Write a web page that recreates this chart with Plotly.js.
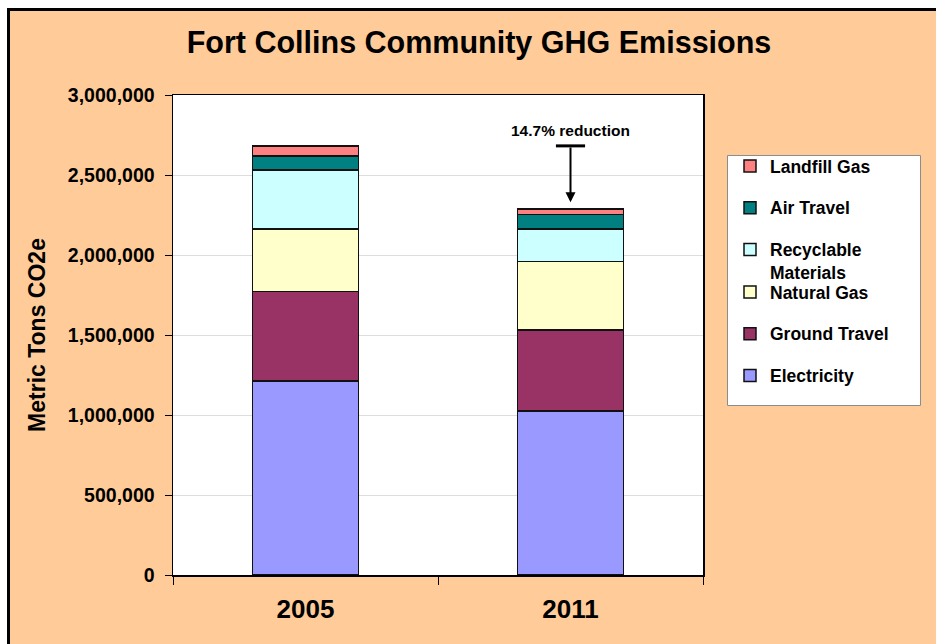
<!DOCTYPE html>
<html>
<head>
<meta charset="utf-8">
<script src="https://cdn.plot.ly/plotly-3.0.1.min.js"></script>
<style>
html,body{margin:0;padding:0;background:#fff;}
#chart{width:936px;height:644px;}
</style>
</head>
<body>
<div id="chart"></div>
<script>
// ---- data (metric tons CO2e) ----
const categories = ['2005', '2011'];
const electricity  = [1211000, 1025000];
const groundTravel = [560000, 507000];
const naturalGas   = [390000, 426000];
const recyclable   = [369000, 205000];
const airTravel    = [90000, 90000];
const landfillGas  = [62000, 33000];
const seriesNames  = ['Electricity', 'Ground Travel', 'Natural Gas', 'Recyclable<br>Materials', 'Air Travel', 'Landfill Gas'];
const seriesColors = ['#9999FF', '#993366', '#FFFFCC', '#CCFFFF', '#008080', '#FF8080'];
const yTickVals = [0, 500000, 1000000, 1500000, 2000000, 2500000, 3000000];
const reductionLabel = '14.7% reduction';

const seriesValues = [electricity, groundTravel, naturalGas, recyclable, airTravel, landfillGas];
const totals = categories.map((c, i) => seriesValues.reduce((s, arr) => s + arr[i], 0));

const FONT = 'Arial, "Liberation Sans", sans-serif';
const W = 936, H = 644, ML = 173, MR = 233, MT = 95, MB = 69;
const PW = W - ML - MR, PH = H - MT - MB;
const px = x => (x - ML) / PW;
const py = y => (H - MB - y) / PH;

// upper three entries in one legend block, lower three in a second block
const traces = seriesNames.map((name, k) => ({
  type: 'bar',
  name: name,
  x: categories,
  y: seriesValues[k],
  legend: k >= 3 ? 'legend' : 'legend2',
  legendgroup: 'g' + k,
  legendrank: seriesNames.length - k,
  marker: { color: seriesColors[k], line: { color: '#111', width: 1.5 } },
  hoverinfo: 'skip'
}));

const i2005 = categories.indexOf('2005');
const i2011 = categories.indexOf('2011');

const legendStyle = (topPx) => ({
  x: px(730), xanchor: 'left',
  y: py(topPx), yanchor: 'top',
  bgcolor: 'rgba(0,0,0,0)', borderwidth: 0,
  traceorder: 'grouped',
  tracegroupgap: 16,
  valign: 'top',
  itemwidth: 30,
  font: { family: FONT, size: 17.5, weight: 'bold', color: '#000' }
});

const layout = {
  width: W, height: H,
  margin: { l: ML, r: MR, t: MT, b: MB, pad: 0 },
  paper_bgcolor: '#FFFFFF',
  plot_bgcolor: '#FFFFFF',
  barmode: 'stack',
  bargap: 0.6,
  font: { family: FONT, color: '#000', weight: 'bold' },
  title: {
    text: 'Fort Collins Community GHG Emissions',
    font: { family: FONT, size: 30.5, weight: 'bold', color: '#000' },
    x: 479 / W, xanchor: 'center',
    y: 1 - 42 / H, yanchor: 'middle', yref: 'container'
  },
  xaxis: {
    type: 'category',
    showline: true, linecolor: '#000', linewidth: 1.5, mirror: true,
    ticks: 'outside', tickson: 'boundaries', ticklen: 8, tickcolor: '#000', tickwidth: 1,
    ticklabelstandoff: 10,
    tickfont: { family: FONT, size: 26, weight: 'bold', color: '#000' },
    showgrid: false, zeroline: false, fixedrange: true
  },
  yaxis: {
    range: [0, 3000000],
    tickvals: yTickVals,
    tickformat: ',d',
    showline: true, linecolor: '#000', linewidth: 1.5, mirror: true,
    ticks: 'outside', ticklen: 7, tickcolor: '#000', tickwidth: 1,
    ticklabelstandoff: 6,
    tickfont: { family: FONT, size: 19.5, weight: 'bold', color: '#000' },
    showgrid: true, gridcolor: '#DDDDDD', gridwidth: 1,
    zeroline: false, fixedrange: true,
    automargin: false,
    title: {
      text: 'Metric Tons CO2e',
      font: { family: FONT, size: 23, weight: 'bold', color: '#000' },
      standoff: 16
    }
  },
  showlegend: true,
  legend: legendStyle(148),
  legend2: legendStyle(274),
  shapes: [
    { type: 'rect', xref: 'paper', yref: 'paper', layer: 'below',
      x0: px(8.5), x1: px(W + 30), y0: py(H + 30), y1: py(9.5),
      fillcolor: '#FFCC99', line: { color: '#000', width: 3 } },
    { type: 'rect', xref: 'paper', yref: 'paper', layer: 'below',
      x0: 0, x1: 1, y0: 0, y1: 1,
      fillcolor: '#FFFFFF', line: { width: 0 } },
    { type: 'rect', xref: 'paper', yref: 'paper', layer: 'below',
      x0: px(727.5), x1: px(920.5), y0: py(405.5), y1: py(155.5),
      fillcolor: '#FFFFFF', line: { color: '#8C8C8C', width: 1 } },
    { type: 'line', xref: 'x', yref: 'y', layer: 'above',
      x0: i2011 - 0.055, x1: i2011 + 0.055, y0: totals[i2005], y1: totals[i2005],
      line: { color: '#000', width: 3 } }
  ],
  annotations: [
    { xref: 'x', yref: 'y', axref: 'x', ayref: 'y',
      x: i2011, y: totals[i2011], ax: i2011, ay: totals[i2005],
      text: '', showarrow: true, arrowhead: 2, arrowsize: 1, arrowwidth: 2,
      arrowcolor: '#000', standoff: 7 },
    { xref: 'x', yref: 'y', x: i2011, y: totals[i2005],
      text: reductionLabel, showarrow: false,
      xanchor: 'center', yanchor: 'bottom', yshift: 5,
      font: { family: FONT, size: 15.5, weight: 'bold', color: '#000' } }
  ]
};

Plotly.newPlot('chart', traces, layout, { staticPlot: true, displayModeBar: false });
</script>
</body>
</html>
